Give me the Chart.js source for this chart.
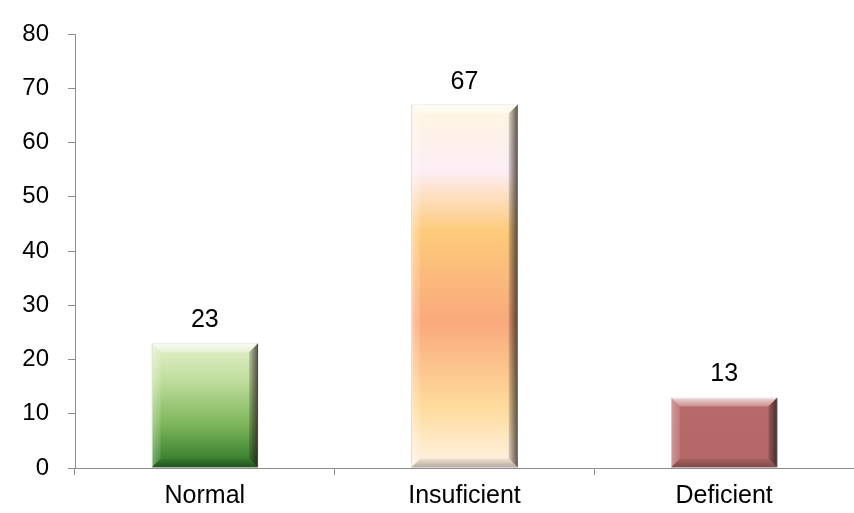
<!DOCTYPE html>
<html>
<head>
<meta charset="utf-8">
<script src="https://cdn.jsdelivr.net/npm/chart.js@4/dist/chart.umd.min.js"></script>
<style>
    html, body { margin: 0; padding: 0; background: #ffffff; }
    #wrap { width: 854px; height: 513px; }
</style>
</head>
<body>
<div id="wrap"><canvas id="vitaminChart"></canvas></div>
<script>
// Chart data
const categories = ['Normal', 'Insuficient', 'Deficient'];
const values = [23, 67, 13];
const yTicks = [0, 10, 20, 30, 40, 50, 60, 70, 80];

// Gradient stops per bar (top -> bottom)
const barStops = [
    [[0, '#e4f1cc'], [0.3, '#bfdd9c'], [0.65, '#7db65b'], [1, '#2b7426']],
    [[0, '#fff5df'], [0.18, '#fdeef6'], [0.35, '#fdca7a'], [0.6, '#f9a97c'], [0.83, '#fedb9c'], [1, '#fff2e6']],
    [[0, '#b96b6b'], [1, '#b46666']]
];

const FONT = "'Liberation Sans', Arial, sans-serif";
const AXIS_COLOR = '#8c8c8c';

function barGradient(context) {
    const chart = context.chart;
    const yScale = chart.scales.y;
    const i = context.dataIndex;
    if (!yScale || i === undefined) return barStops[0][0][1];
    const top = yScale.getPixelForValue(values[i]);
    const base = yScale.getPixelForValue(0);
    // scale not laid out yet
    if (!isFinite(top) || !isFinite(base) || top === base) return barStops[i][0][1];
    const g = chart.ctx.createLinearGradient(0, top, 0, base);
    barStops[i].forEach(s => g.addColorStop(s[0], s[1]));
    return g;
}

// Bevel edges + value labels, drawn on top of the library's bar elements
const bevelPlugin = {
    id: 'bevel',
    afterDatasetsDraw(chart) {
        const ctx = chart.ctx;
        const meta = chart.getDatasetMeta(0);
        const b = 9;
        meta.data.forEach((bar, i) => {
            const left = bar.x - bar.width / 2;
            const right = bar.x + bar.width / 2;
            const top = bar.y;
            const bottom = bar.base;
            const quad = (pts, fill) => {
                ctx.beginPath();
                ctx.moveTo(pts[0][0], pts[0][1]);
                for (let k = 1; k < pts.length; k++) ctx.lineTo(pts[k][0], pts[k][1]);
                ctx.closePath();
                ctx.fillStyle = fill;
                ctx.fill();
            };
            ctx.save();
            // top
            let g = ctx.createLinearGradient(0, top, 0, top + b);
            g.addColorStop(0, 'rgba(255,255,255,0.75)');
            g.addColorStop(1, 'rgba(255,255,255,0.25)');
            quad([[left, top], [right, top], [right - b, top + b], [left + b, top + b]], g);
            // left
            g = ctx.createLinearGradient(left, 0, left + b, 0);
            g.addColorStop(0, 'rgba(255,255,255,0.35)');
            g.addColorStop(1, 'rgba(255,255,255,0.1)');
            quad([[left, top], [left + b, top + b], [left + b, bottom - b], [left, bottom]], g);
            // right
            g = ctx.createLinearGradient(right - b, 0, right, 0);
            g.addColorStop(0, 'rgba(0,0,0,0.15)');
            g.addColorStop(1, 'rgba(30,20,10,0.7)');
            quad([[right, top], [right, bottom], [right - b, bottom - b], [right - b, top + b]], g);
            // bottom
            g = ctx.createLinearGradient(0, bottom - b, 0, bottom);
            g.addColorStop(0, 'rgba(0,0,0,0.05)');
            g.addColorStop(1, 'rgba(0,0,0,0.3)');
            quad([[left, bottom], [left + b, bottom - b], [right - b, bottom - b], [right, bottom]], g);
            ctx.restore();

            // value label
            ctx.save();
            ctx.font = '25px ' + FONT;
            ctx.fillStyle = '#000';
            ctx.textAlign = 'center';
            ctx.textBaseline = 'alphabetic';
            ctx.fillText(String(values[i]), bar.x, top - 16);
            ctx.restore();
        });
    }
};

const ctx = document.getElementById('vitaminChart').getContext('2d');
const vitaminChart = new Chart(ctx, {
    type: 'bar',
    data: {
        labels: categories,
        datasets: [{
            data: values,
            backgroundColor: barGradient,
            borderColor: 'rgba(110,110,110,0.55)',
            borderWidth: 1,
            categoryPercentage: 1,
            barPercentage: 0.41
        }]
    },
    options: {
        responsive: true,
        maintainAspectRatio: false,
        animation: false,
        layout: { padding: { top: 34, right: 0, left: 0, bottom: 0 } },
        plugins: {
            legend: { display: false },
            tooltip: { enabled: false }
        },
        scales: {
            x: {
                grid: {
                    offset: true,
                    drawOnChartArea: false,
                    tickLength: 7,
                    color: AXIS_COLOR
                },
                border: { color: AXIS_COLOR, width: 1 },
                ticks: {
                    color: '#000',
                    font: { family: FONT, size: 25 },
                    padding: 6,
                    maxRotation: 0
                },
                afterFit: scale => { scale.height = 45; }
            },
            y: {
                min: yTicks[0],
                max: yTicks[yTicks.length - 1],
                afterBuildTicks: scale => { scale.ticks = yTicks.map(v => ({ value: v })); },
                grid: {
                    drawOnChartArea: false,
                    tickLength: 7,
                    color: AXIS_COLOR
                },
                border: { color: AXIS_COLOR, width: 1 },
                ticks: {
                    color: '#000',
                    font: { family: FONT, size: 24 },
                    padding: 19
                },
                afterFit: scale => { scale.width = 75; }
            }
        }
    },
    plugins: [bevelPlugin]
});
</script>
</body>
</html>
